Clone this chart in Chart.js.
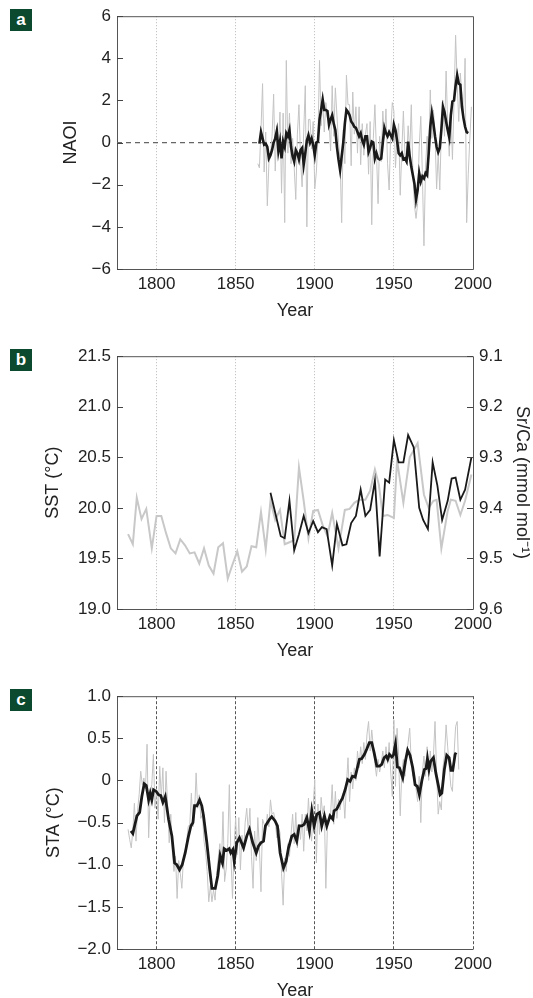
<!DOCTYPE html>
<html>
<head>
<meta charset="utf-8">
<script src="https://cdn.jsdelivr.net/npm/chart.js@4.4.1/dist/chart.umd.min.js"></script>
<style>
  body { margin: 0; background: #fff; width: 533px; height: 998px; overflow: hidden; position: relative; }
  .panel { position: absolute; left: 0; }
  .tag { position: absolute; left: 10px; width: 22px; height: 22px; background: #0b4a2e; color: #fff;
         font: bold 17px 'Liberation Sans', Arial, sans-serif; text-align: center; line-height: 21px; }
</style>
</head>
<body>
<div class="tag" style="top:9px">a</div>
<div class="tag" style="top:349px">b</div>
<div class="tag" style="top:689px">c</div>
<canvas class="panel" id="chartA" width="533" height="330" style="top:0px"></canvas>
<canvas class="panel" id="chartB" width="533" height="330" style="top:340px"></canvas>
<canvas class="panel" id="chartC" width="533" height="330" style="top:680px"></canvas>
<script>
// ---- data ----
const xTicks = [1800, 1850, 1900, 1950, 2000];

// panel a: NAOI (annual, grey) and smoothed (black)
const naoiStart = 1864;
const naoiAnnual = [
  -1.0, -1.2, 0.6, 2.8, -1.4, 0.5, -3.0, -1.0, -0.6, 0.3,
  2.3, -1.35, 0.8, -0.3, 1.45, -2.4, 1.4, -3.8, 3.9, -0.5,
  1.4, -1.0, 0.2, -1.2, -2.7, 0.4, 1.8, -0.8, -2.1, 0.5,
  2.7, -4.0, 1.1, 1.1, -0.3, 1.0, -2.2, -1.4, 0.2, 3.9,
  0.8, 2.0, 0.5, 1.9, 1.2, 1.0, -0.4, 2.7, 0.3, 2.6,
  1.3, 0.0, -0.8, -3.8, 0.6, -1.0, 3.2, 1.8, 1.8, -1.1,
  2.4, 0.4, 1.7, -0.5, 1.7, -1.05, 0.9, -0.6, 0.4, 0.9,
  -1.5, 1.0, -3.9, 0.2, 1.8, -0.5, -2.9, 0.3, -0.9, 1.5,
  0.2, 1.6, -1.0, -2.25, 0.5, 1.9, 1.5, -1.2, 0.2, 0.9,
  -2.5, -0.4, 1.5, -0.6, -1.0, 0.8, -0.5, 1.8, -1.4, -3.0,
  -3.6, -2.9, -0.2, 1.25, -1.5, -4.9, -1.2, 0.3, -0.8, 2.5,
  0.2, 1.55, 0.4, -2.2, -0.5, -2.25, 0.6, 2.0, 0.3, 3.4,
  0.9, -0.65, 1.6, -0.8, 1.9, 5.1, 2.8, 1.0, 3.3, 2.2,
  1.2, 4.0, -3.8, -1.5, 0.2, 1.7
];
const naoiSmoothStart = 1865;
const naoiSmooth = [
  -0.05, 0.5, 0.2, -0.1, -0.05, -0.2, -0.75, -0.6, -0.35, 0,
  0.2, 0.55, -0.4, 0.05, -0.75, 0.05, -0.2, 0.45, 0.3, 0.6,
  -0.2, -0.65, -0.9, -0.35, -0.5, -0.8, -0.35, -0.25, -1.05, -0.5,
  0.1, 0.35, 0, 0.2, -0.1, -0.6, 0, 0.05, 1.1, 1.55,
  2.05, 1.55, 1.55, 1.5, 0.85, 1.1, 1.3, 0.9, 0.6, -0.2,
  -0.8, -1.3, -0.65, 0, 0.9, 1.55, 1.45, 1.3, 1.0, 0.9,
  0.75, 0.7, 0.5, 0.3, 0.45, 0.1, -0.1, 0.3, 0.3, -0.45,
  -0.25, 0.05, 0, -0.75, -0.5, -0.75, -0.8, -0.75, 0, 0.7,
  0.45, 0.3, 0.5, 0.35, 0.2, 0.85, 0.6, 0.1, -0.5, -0.6,
  -0.5, -0.8, -0.75, -0.9, 0.05, -0.65, -1.15, -1.55, -1.95, -2.7,
  -2.25, -1.45, -1.85, -1.6, -1.7, -1.45, -1.55, -0.5, 0.75, 1.4,
  0.9, 0.3, -0.2, -0.45, -0.25, 0.6, 1.7, 1.45, 1.0, 0.6,
  0.25, 1.3, 1.95, 2.0, 2.7, 3.2, 2.8, 2.75, 1.7, 1.15,
  0.75, 0.5, 0.45
];
const zeroLineYears = [1775, 1998];
const zeroLineValues = [0, 0];
const naoiTicks = [-6, -4, -2, 0, 2, 4, 6];
const naoiTickLabels = ['\u22126', '\u22124', '\u22122', '0', '2', '4', '6'];

// panel b: SST (grey, left axis) and coral Sr/Ca (black, right axis, reversed)
const sstYears = [
  1782, 1785, 1787.5, 1790.5, 1793.5, 1797, 1800, 1803, 1806, 1809,
  1812, 1815, 1818, 1821, 1824, 1827, 1830, 1833, 1836, 1839,
  1842, 1845, 1848, 1851, 1854, 1857, 1860, 1863, 1866, 1869,
  1872, 1875, 1878, 1881, 1884, 1887, 1890, 1893, 1896, 1899,
  1902, 1905, 1908, 1911, 1915, 1919, 1922, 1925, 1928, 1932,
  1935, 1938, 1940.5, 1943, 1946, 1950, 1952, 1956, 1960, 1965,
  1969, 1972, 1975, 1977, 1980, 1984, 1986, 1989, 1992, 1995, 1999
];
const sstValues = [
  19.74, 19.64, 20.1, 19.89, 19.99, 19.6, 19.92, 19.92, 19.75, 19.6,
  19.55, 19.69, 19.63, 19.55, 19.56, 19.45, 19.6, 19.43, 19.35, 19.61,
  19.65, 19.3, 19.44, 19.57, 19.37, 19.42, 19.62, 19.61, 19.96, 19.59,
  20.07, 19.88, 19.98, 19.64, 19.66, 19.68, 20.4, 20.07, 19.7, 19.97,
  19.98, 19.83, 19.72, 19.95, 19.6, 19.98, 19.99, 20.05, 20.08, 20.08,
  20.17, 20.38, 20.23, 19.92, 19.93, 19.9, 20.47, 20.05, 20.5, 20.64,
  20.13, 20.0, 20.07, 20.08, 19.6, 19.97, 20.08, 20.07, 19.93, 20.07, 20.33
];
const srcaYears = [
  1872, 1878.5, 1881, 1884, 1887, 1890, 1893, 1896, 1899, 1902,
  1904.5, 1907.5, 1911, 1914, 1917.5, 1920, 1923, 1926, 1929, 1932,
  1935, 1938, 1941, 1944.5, 1947, 1950, 1953, 1956, 1959, 1962.5,
  1966, 1968.5, 1971.5, 1974.5, 1977.5, 1980.5, 1984, 1986.5, 1989, 1992,
  1995, 1999
];
const srcaValues = [
  9.370, 9.456, 9.460, 9.386, 9.484, 9.452, 9.416, 9.450, 9.426, 9.448,
  9.438, 9.442, 9.514, 9.432, 9.474, 9.472, 9.430, 9.416, 9.364, 9.416,
  9.404, 9.346, 9.496, 9.344, 9.350, 9.266, 9.310, 9.310, 9.256, 9.280,
  9.400, 9.424, 9.442, 9.310, 9.356, 9.424, 9.386, 9.342, 9.340, 9.384,
  9.364, 9.300
];
const sstTicks = [19.0, 19.5, 20.0, 20.5, 21.0, 21.5];
const sstTickLabels = ['19.0', '19.5', '20.0', '20.5', '21.0', '21.5'];
const srcaTicks = [9.1, 9.2, 9.3, 9.4, 9.5, 9.6];
const srcaTickLabels = ['9.1', '9.2', '9.3', '9.4', '9.5', '9.6'];

// panel c: STA (annual, grey) and smoothed (black)
const staStart = 1782;
const staAnnual = [
  -0.58, -0.70, -0.80, -0.60, -0.27, -0.72, -0.35, -0.17, 0.11, -0.05,
  0.03, -0.10, 0.43, -0.68, -0.17, -0.05, 0.31, -0.33, -0.10, -0.46,
  0.17, -0.20, 0.15, -0.50, 0.11, -0.30, -0.74, -0.40, -0.85, -1.08,
  -0.90, -1.40, -0.95, -1.10, -1.28, -0.92, -0.85, -0.72, -0.55, -0.52,
  -0.15, -0.55, -0.40, 0.09, -0.33, -0.17, -0.45, -0.40, -0.72, -0.85,
  -1.08, -1.44, -1.25, -1.44, -1.30, -1.42, -1.10, -0.92, -0.75, -1.00,
  -0.37, -1.20, -1.05, -0.75, -0.05, -0.90, -1.40, -0.80, -0.44, -0.88,
  -0.44, -1.06, -0.65, -0.85, -0.50, -0.33, -0.62, -0.33, -0.90, -1.28,
  -0.60, -0.95, -0.44, -0.80, -1.32, -0.46, -0.52, -0.58, -0.40, -0.55,
  -0.23, -0.40, -0.38, -0.48, -0.68, -0.55, -0.62, -1.10, -1.48, -0.92,
  -1.08, -0.75, -0.90, -0.64, -0.40, -0.75, -0.38, -0.80, -0.52, -0.70,
  -0.40, -0.84, -0.40, -0.60, -0.21, -0.55, -0.72, -0.30, 0.01, -0.98,
  -0.28, -0.64, -0.20, -0.40, -0.30, -1.28, -0.52, -0.40, -0.40, -0.05,
  -0.52, -0.13, -0.45, -0.22, -0.35, -0.20, -0.15, -0.45, -0.05, 0.27,
  -0.25, 0.10, -0.10, 0.15, 0.00, 0.35, 0.15, 0.40, 0.20, 0.45,
  0.25, 0.55, 0.70, 0.35, 0.60, 0.40, 0.20, 0.05, 0.25, 0.10,
  0.20, 0.35, 0.15, 0.40, 0.20, 0.45, 0.10, -0.19, 0.72, -0.07,
  0.62, 0.30, -0.42, 0.10, 0.25, 0.05, 0.30, 0.45, 0.62, 0.20,
  0.05, 0.10, -0.10, -0.25, 0.05, -0.50, 0.10, 0.29, 0.05, 0.40,
  0.00, 0.35, 0.10, 0.30, 0.70, 0.10, -0.40, -0.25, -0.35, 0.15,
  0.30, 0.66, 0.40, 0.15, -0.07, -0.13, 0.30, 0.64, 0.70, 0.13
];
const staSmoothYears = [
  1783.8, 1785, 1787.6, 1789.3, 1790.7, 1792.2, 1793.5, 1795, 1796, 1797,
  1798.1, 1799.8, 1801.3, 1802.7, 1804, 1805.5, 1807.6, 1809.7, 1811.4, 1812.8,
  1814.5, 1816.2, 1818.1, 1820.2, 1821.7, 1823, 1824, 1825.5, 1827.2, 1828.6,
  1829.7, 1831.8, 1833.5, 1835, 1837.1, 1838.7, 1840.2, 1841.7, 1842.7, 1844.4,
  1845.9, 1846.9, 1848.2, 1849.1, 1850.7, 1852.4, 1855, 1857, 1858.7, 1860.8,
  1863, 1864.4, 1865.9, 1867.6, 1868.8, 1871.4, 1872.8, 1874.9, 1876.4, 1878.1,
  1880.2, 1881.9, 1883.4, 1885.5, 1887, 1888.6, 1890.1, 1891.8, 1893.3, 1895,
  1896.6, 1898.1, 1899.6, 1901.3, 1903, 1904.4, 1906.1, 1907.6, 1909.7, 1911.4,
  1912.2, 1913.9, 1916, 1917.5, 1919.2, 1920.8, 1922.3, 1923.8, 1925.5, 1926.9,
  1928.2, 1929.7, 1931.4, 1932.8, 1934.5, 1936, 1937.5, 1939.2, 1940.9, 1942.3,
  1943.8, 1945.1, 1946.1, 1947.2, 1948.7, 1949.7, 1951, 1952.2, 1953.5, 1955.6,
  1957.3, 1958.7, 1960.2, 1961.9, 1963.4, 1964.8, 1966.1, 1967.8, 1969.3, 1970.3,
  1971.2, 1972.2, 1973.3, 1975, 1976.5, 1978.2, 1979.2, 1980.3, 1981.9, 1983.4,
  1984.9, 1986.1, 1987.2, 1988.7, 1989.3
];
const staSmooth = [
  -0.60, -0.63, -0.42, -0.38, -0.19, -0.04, -0.06, -0.23, -0.15, -0.23,
  -0.11, -0.13, -0.17, -0.18, -0.26, -0.19, -0.46, -0.66, -0.98, -1.00,
  -1.06, -1.00, -0.86, -0.66, -0.54, -0.50, -0.30, -0.30, -0.23, -0.30,
  -0.42, -0.74, -1.04, -1.28, -1.28, -1.13, -0.89, -0.98, -0.81, -0.83,
  -0.81, -0.86, -0.82, -0.96, -0.74, -0.68, -0.80, -0.66, -0.58, -0.74,
  -0.86, -0.78, -0.74, -0.72, -0.54, -0.46, -0.43, -0.48, -0.54, -0.86,
  -1.04, -0.96, -0.80, -0.66, -0.64, -0.72, -0.54, -0.54, -0.52, -0.44,
  -0.60, -0.36, -0.54, -0.40, -0.38, -0.54, -0.42, -0.54, -0.42, -0.46,
  -0.36, -0.34, -0.26, -0.21, -0.11, 0.01, -0.01, 0.05, 0.04, 0.15,
  0.25, 0.26, 0.31, 0.37, 0.45, 0.45, 0.33, 0.17, 0.17, 0.19,
  0.27, 0.29, 0.25, 0.31, 0.28, 0.30, 0.43, 0.16, 0.15, 0.03,
  0.23, 0.36, 0.30, 0.15, -0.05, -0.07, -0.17, 0.01, 0.13, 0.14,
  0.26, 0.13, 0.23, 0.27, 0.09, -0.07, -0.17, -0.15, 0.13, 0.30,
  0.27, 0.12, 0.12, 0.31, 0.33
];
const staTicks = [-2.0, -1.5, -1.0, -0.5, 0, 0.5, 1.0];
const staTickLabels = ['\u22122.0', '\u22121.5', '\u22121.0', '\u22120.5', '0', '0.5', '1.0'];

// ---- helpers ----
const FONT = "'Liberation Sans Narrow', 'Arial Narrow', 'Liberation Sans', Arial, sans-serif";
Chart.defaults.font.family = FONT;
Chart.defaults.color = '#222';

function series(start, values) {
  return values.map((v, i) => ({ x: start + i, y: v }));
}
function pairs(xs, ys) {
  return xs.map((x, i) => ({ x: x, y: ys[i] }));
}

// draws the plot box
const frame = {
  id: 'frame',
  beforeDatasetsDraw(chart, args, opts) {
    const { ctx, chartArea: a } = chart;
    ctx.save();
    ctx.strokeStyle = '#555';
    ctx.lineWidth = 1;
    ctx.beginPath();
    ctx.moveTo(a.right + 0.5, a.bottom + 0.5);
    ctx.lineTo(a.left + 0.5, a.bottom + 0.5);
    ctx.lineTo(a.left + 0.5, a.top + 0.5);
    ctx.lineTo(a.right + 0.5, a.top + 0.5);
    if (opts.right !== false) ctx.lineTo(a.right + 0.5, a.bottom + 0.5);
    ctx.stroke();
    ctx.restore();
  }
};

// short tick marks pointing into the plot, on the y axes
const inwardTicks = {
  id: 'inwardTicks',
  afterDatasetsDraw(chart) {
    const { ctx, chartArea: a } = chart;
    ctx.save();
    ctx.strokeStyle = '#444';
    ctx.lineWidth = 1;
    Object.values(chart.scales).forEach(s => {
      if (s.axis !== 'y') return;
      s.ticks.forEach(t => {
        const y = Math.round(s.getPixelForValue(t.value)) + 0.5;
        const x0 = s.position === 'left' ? a.left : a.right;
        const dx = s.position === 'left' ? 6 : -6;
        ctx.beginPath();
        ctx.moveTo(x0, y);
        ctx.lineTo(x0 + dx, y);
        ctx.stroke();
      });
    });
    ctx.restore();
  }
};

function xAxis(gridColor, dash, lastLine) {
  return {
    type: 'linear',
    min: 1775,
    max: 2000,
    afterBuildTicks: s => { s.ticks = xTicks.map(v => ({ value: v })); },
    afterFit: s => { s.height = 61; },
    ticks: { font: { size: 17 }, padding: 5, maxRotation: 0, autoSkip: false, callback: v => String(v) },
    grid: {
      drawTicks: false,
      lineWidth: 1,
      color: c => (c.tick && (c.tick.value < 2000 || lastLine)) ? gridColor : 'rgba(0,0,0,0)'
    },
    border: { display: false, dash: dash },
    title: { display: true, text: 'Year', font: { size: 18 }, padding: { top: 0, bottom: 8 } }
  };
}

function yAxis(o) {
  return {
    type: 'linear',
    position: o.position,
    min: o.min,
    max: o.max,
    reverse: !!o.reverse,
    afterBuildTicks: s => { s.ticks = o.ticks.map(v => ({ value: v })); },
    afterFit: s => { s.width = o.width; },
    ticks: {
      font: { size: 17 },
      padding: 6,
      callback: v => {
        const i = o.ticks.findIndex(t => Math.abs(t - v) < 1e-9);
        return i >= 0 ? o.labels[i] : '';
      }
    },
    grid: { display: false, drawTicks: false },
    border: { display: false },
    title: { display: true, text: o.title, font: { size: 18 }, padding: { top: o.titlePad, bottom: 0 } }
  };
}

function baseOptions(scales, padRight, frameOpts) {
  return {
    responsive: false,
    animation: false,
    devicePixelRatio: 1,
    layout: { padding: { top: 16, right: padRight, bottom: 0, left: 0 } },
    scales: scales,
    elements: { point: { radius: 0 }, line: { tension: 0 } },
    plugins: { legend: { display: false }, tooltip: { enabled: false }, frame: frameOpts || {} }
  };
}

// ---- panel a ----
new Chart(document.getElementById('chartA'), {
  type: 'line',
  data: {
    datasets: [
      { data: series(naoiSmoothStart, naoiSmooth), borderColor: '#1a1a1a', borderWidth: 2.6, order: 0 },
      { data: series(naoiStart, naoiAnnual), borderColor: '#c4c4c4', borderWidth: 1, order: 1 },
      { data: pairs(zeroLineYears, zeroLineValues), borderColor: '#666', borderWidth: 1.4, borderDash: [5, 4], order: 2 }
    ]
  },
  options: baseOptions({
    x: xAxis('#b8b8b8', [1, 2], false),
    y: yAxis({ position: 'left', min: -6, max: 6, ticks: naoiTicks, labels: naoiTickLabels,
               width: 117, title: 'NAOI', titlePad: 60 })
  }, 60),
  plugins: [frame, inwardTicks]
});

// ---- panel b ----
new Chart(document.getElementById('chartB'), {
  type: 'line',
  data: {
    datasets: [
      { data: pairs(srcaYears, srcaValues), yAxisID: 'y2', borderColor: '#1a1a1a', borderWidth: 1.8, order: 0 },
      { data: pairs(sstYears, sstValues), yAxisID: 'y', borderColor: '#c8c8c8', borderWidth: 2, order: 1 }
    ]
  },
  options: baseOptions({
    x: xAxis('#b8b8b8', [1, 2], false),
    y: yAxis({ position: 'left', min: 19, max: 21.5, ticks: sstTicks, labels: sstTickLabels,
               width: 117, title: 'SST (\u00b0C)', titlePad: 42 }),
    y2: yAxis({ position: 'right', min: 9.1, max: 9.6, reverse: true, ticks: srcaTicks, labels: srcaTickLabels,
                width: 60, title: 'Sr/Ca (mmol mol\u207b\u00b9)', titlePad: 0 })
  }, 0),
  plugins: [frame, inwardTicks]
});

// ---- panel c ----
new Chart(document.getElementById('chartC'), {
  type: 'line',
  data: {
    datasets: [
      { data: pairs(staSmoothYears, staSmooth), borderColor: '#1a1a1a', borderWidth: 2.8, order: 0 },
      { data: series(staStart, staAnnual), borderColor: '#c4c4c4', borderWidth: 1, order: 1 }
    ]
  },
  options: baseOptions({
    x: xAxis('#555', [3, 2], true),
    y: yAxis({ position: 'left', min: -2, max: 1, ticks: staTicks, labels: staTickLabels,
               width: 117, title: 'STA (\u00b0C)', titlePad: 43 })
  }, 60, { right: false }),
  plugins: [frame, inwardTicks]
});
</script>
</body>
</html>
